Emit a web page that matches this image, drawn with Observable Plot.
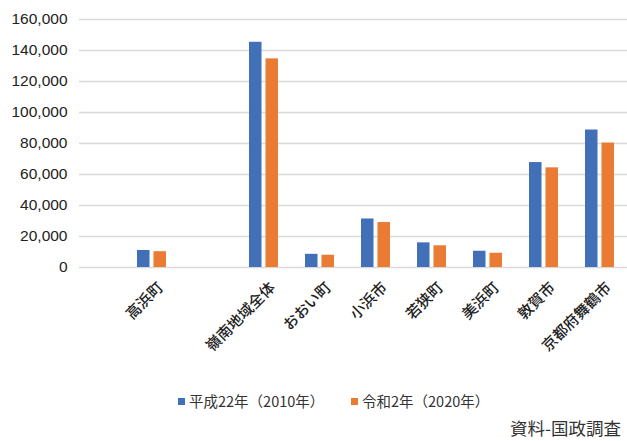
<!DOCTYPE html>
<html>
<head>
<meta charset="utf-8">
<script src="https://cdn.jsdelivr.net/npm/d3@7"></script>
<script src="https://cdn.jsdelivr.net/npm/@observablehq/plot@0.6"></script>
<style>
  body { margin: 0; background: #fff; width: 627px; height: 441px; position: relative; overflow: hidden; font-family: "Noto Sans CJK JP", sans-serif; }
  #chart { position: absolute; left: 0; top: 0; }
  .item { position: absolute; top: 391px; display: flex; align-items: center; white-space: nowrap; font-size: 14.5px; line-height: 20px; color: #333; }
  .sw { width: 7px; height: 7px; margin-right: 4px; }
  .caption { position: absolute; right: 6px; top: 418px; font-size: 17.5px; line-height: 20px; color: #333; white-space: nowrap; }
</style>
</head>
<body>
<div id="chart"></div>
<div id="legend"></div>
<div class="caption" id="caption"></div>
<script>
// ---- data ----
const categories = ["高浜町", " ", "嶺南地域全体", "おおい町", "小浜市", "若狭町", "美浜町", "敦賀市", "京都府舞鶴市"];
const seriesNames = ["平成22年（2010年）", "令和2年（2020年）"];
const pop2010 = [11000, null, 145300, 8500, 31300, 15900, 10500, 67700, 88700];
const pop2020 = [10200, null, 134600, 7900, 29000, 14000, 9200, 64300, 80300];
const yTicks = [0, 20000, 40000, 60000, 80000, 100000, 120000, 140000, 160000];
const captionText = "資料-国政調査";

const colors = ["#4170B8", "#E97B32"];

const rows2010 = categories.map((c, i) => ({cat: c, v: pop2010[i]})).filter(d => d.v != null);
const rows2020 = categories.map((c, i) => ({cat: c, v: pop2020[i]})).filter(d => d.v != null);

const chart = Plot.plot({
  width: 627,
  height: 380,
  marginLeft: 79,
  marginRight: 0,
  marginTop: 19,
  marginBottom: 113,
  style: {fontFamily: "'Liberation Sans', 'Noto Sans CJK JP', sans-serif", background: "#fff", color: "#222"},
  x: {domain: categories, range: [121.85, 628.65], paddingInner: 0.48, paddingOuter: 0.24, axis: null},
  y: {domain: [0, 160000], axis: null},
  marks: [
    Plot.ruleY(yTicks, {stroke: "#d9d9d9", strokeWidth: 1.6}),
    Plot.barY(rows2010, {x: "cat", y: "v", fill: colors[0], insetRight: 16.5}),
    Plot.barY(rows2020, {x: "cat", y: "v", fill: colors[1], insetLeft: 16.5}),
    Plot.axisY(yTicks, {label: null, tickSize: 0, tickPadding: 12, tickFormat: d3.format(","), fontSize: 15.5, fill: "#222"}),
    Plot.text(categories, {x: d => d, frameAnchor: "bottom", rotate: -45, textAnchor: "end", dx: 12, dy: 21,
      fontSize: 15, fontWeight: 500, fill: "#222", fontFamily: "'Noto Sans CJK JP', sans-serif"})
  ]
});
document.getElementById("chart").append(chart);

const legend = document.getElementById("legend");
const lefts = [178, 351];
seriesNames.forEach((name, i) => {
  const item = document.createElement("div");
  item.className = "item";
  item.style.left = lefts[i] + "px";
  const sw = document.createElement("span");
  sw.className = "sw";
  sw.style.background = colors[i];
  const t = document.createElement("span");
  t.textContent = name;
  item.append(sw, t);
  legend.append(item);
});
document.getElementById("caption").textContent = captionText;
</script>
</body>
</html>
